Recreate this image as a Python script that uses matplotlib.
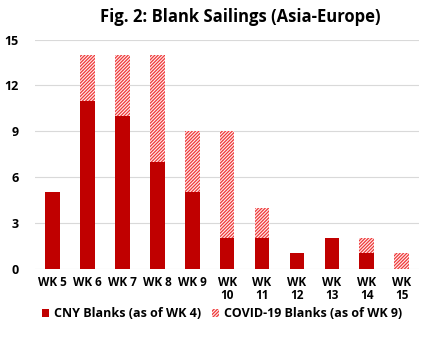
import numpy as np
import matplotlib.pyplot as plt

plt.rcParams['font.family'] = ['Open Sans', 'DejaVu Sans']
plt.rcParams['hatch.linewidth'] = 0.9

weeks = ['WK 5', 'WK 6', 'WK 7', 'WK 8', 'WK 9', 'WK\n10', 'WK\n11',
         'WK\n12', 'WK\n13', 'WK\n14', 'WK\n15']
cny = [5, 11, 10, 7, 5, 2, 2, 1, 2, 1, 0]
covid = [0, 3, 4, 7, 4, 7, 2, 0, 0, 1, 1]

fig = plt.figure(figsize=(4.44, 3.38), dpi=100)
ax = fig.add_axes([0.079, 0.205, 0.865, 0.678])

x = np.arange(len(weeks))
ax.bar(x, cny, width=0.42, color='#c00000', label='CNY Blanks (as of WK 4)', zorder=3)
ax.bar(x, covid, width=0.42, bottom=cny, color='#fff0f0', edgecolor='#ee3a3a',
       hatch='//////////', linewidth=0, label='COVID-19 Blanks (as of WK 9)', zorder=3)

ax.set_ylim(0, 15)
ax.set_yticks([0, 3, 6, 9, 12, 15])
ax.set_xlim(-0.5, len(weeks) - 0.5)
ax.set_xticks(x)
ax.set_xticklabels(weeks, fontsize=8.5, fontweight='bold', linespacing=1.0)
ax.tick_params(axis='y', labelsize=9, length=0, pad=12)
ax.tick_params(axis='x', length=0, pad=5)
for lbl in ax.get_yticklabels():
    lbl.set_fontweight('bold')
ax.grid(axis='y', color='#d9d9d9', linewidth=0.8, zorder=0)
for s in ['top', 'right', 'left', 'bottom']:
    ax.spines[s].set_visible(False)

fig.suptitle('Fig. 2: Blank Sailings (Asia-Europe)', fontsize=12,
             fontweight='bold', x=0.54, y=0.975)

leg = fig.legend(loc='lower center', bbox_to_anchor=(0.5, 0.02), ncol=2,
                 frameon=False, fontsize=9, handlelength=0.6, handleheight=0.6,
                 handletextpad=0.4, columnspacing=0.8)
for t in leg.get_texts():
    t.set_fontweight('bold')

fig.savefig('out.png', dpi=100)
